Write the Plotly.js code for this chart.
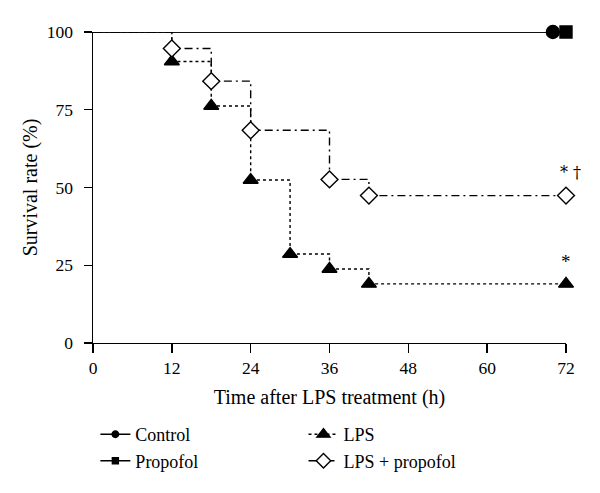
<!DOCTYPE html>
<html><head><meta charset="utf-8">
<script src="https://cdn.plot.ly/plotly-3.0.1.min.js"></script>
<style>body{margin:0;background:#fff}#c{width:600px;height:493px}</style>
</head><body><div id="c"></div>
<script>
// Data (survival %, time in hours)
const controlX = [0, 70];
const controlY = [100, 100];
const propofolX = [0, 72];
const propofolY = [100, 100];
const lpsX = [0, 12, 18, 24, 30, 36, 42, 72];
const lpsY = [100, 90.5, 76.2, 52.4, 28.6, 23.8, 19.0, 19.0];
const lpsPropX = [0, 12, 18, 24, 36, 42, 72];
const lpsPropY = [100, 94.7, 84.2, 68.4, 52.6, 47.4, 47.4];
const xTicks = [0, 12, 24, 36, 48, 60, 72];
const yTicks = [0, 25, 50, 75, 100];

const font = "Liberation Serif, serif";
function mk(x, y, name, dash, symbol, size, fill, legend) {
  const sizes = x.map((v, i) => (i === 0 ? 0 : size));
  return {
    x: x, y: y, name: name, mode: 'lines+markers', legend: legend,
    line: {shape: 'hv', color: '#000', width: 1.4, dash: dash},
    marker: {symbol: symbol, size: sizes, color: fill, opacity: 1, line: {color: '#000', width: 1.4}},
    opacity: 1,
    cliponaxis: false
  };
}
const traces = [
  mk(controlX, controlY, 'Control', 'solid', 'circle', 13, '#000', 'legend'),
  mk(propofolX, propofolY, 'Propofol', 'solid', 'square', 12, '#000', 'legend'),
  mk(lpsX, lpsY, 'LPS', '3px,3px', 'triangle-up', 13, '#000', 'legend2'),
  mk(lpsPropX, lpsPropY, 'LPS + propofol', '8px,4px,2px,4px', 'diamond', 13, '#fff', 'legend2')
];
const legendCommon = {
  orientation: 'v', yanchor: 'top', xanchor: 'left',
  font: {family: font, size: 18, color: '#000'},
  bgcolor: 'rgba(0,0,0,0)', tracegroupgap: 0, itemwidth: 30
};
const layout = {
  width: 600, height: 493,
  margin: {l: 93, r: 34, t: 32, b: 150},
  paper_bgcolor: '#fff', plot_bgcolor: '#fff',
  font: {family: font, color: '#000'},
  showlegend: true,
  legend: Object.assign({x: 0.005, y: -0.235}, legendCommon),
  legend2: Object.assign({x: 0.445, y: -0.235}, legendCommon),
  xaxis: {
    range: [0, 72], tickvals: xTicks, ticktext: xTicks.map(String),
    ticks: 'outside', ticklen: 9, tickwidth: 1.4, tickcolor: '#000',
    showline: true, linecolor: '#000', linewidth: 1.4, showgrid: false, zeroline: false,
    tickfont: {family: font, size: 17.5, color: '#000'},
    title: {text: 'Time after LPS treatment (h)', font: {family: font, size: 20, color: '#000'}, standoff: 12}
  },
  yaxis: {
    range: [0, 100], tickvals: yTicks, ticktext: yTicks.map(String),
    ticks: 'outside', ticklen: 8, tickwidth: 1.4, tickcolor: '#000', ticklabelstandoff: 7,
    showline: true, linecolor: '#000', linewidth: 1.4, showgrid: false, zeroline: false,
    tickfont: {family: font, size: 17.5, color: '#000'},
    title: {text: 'Survival rate (%)', font: {family: font, size: 20, color: '#000'}, standoff: 4}
  },
  annotations: [
    {x: 72, y: 19.0, yshift: 22, text: '*', showarrow: false, font: {family: font, size: 19, color: '#000'}},
    {x: 72, y: 47.4, yshift: 23, xshift: 4, text: '* \u2020', showarrow: false, font: {family: "DejaVu Serif, serif", size: 16, color: '#000'}}
  ]
};
Plotly.newPlot('c', traces, layout, {staticPlot: true});
</script></body></html>
